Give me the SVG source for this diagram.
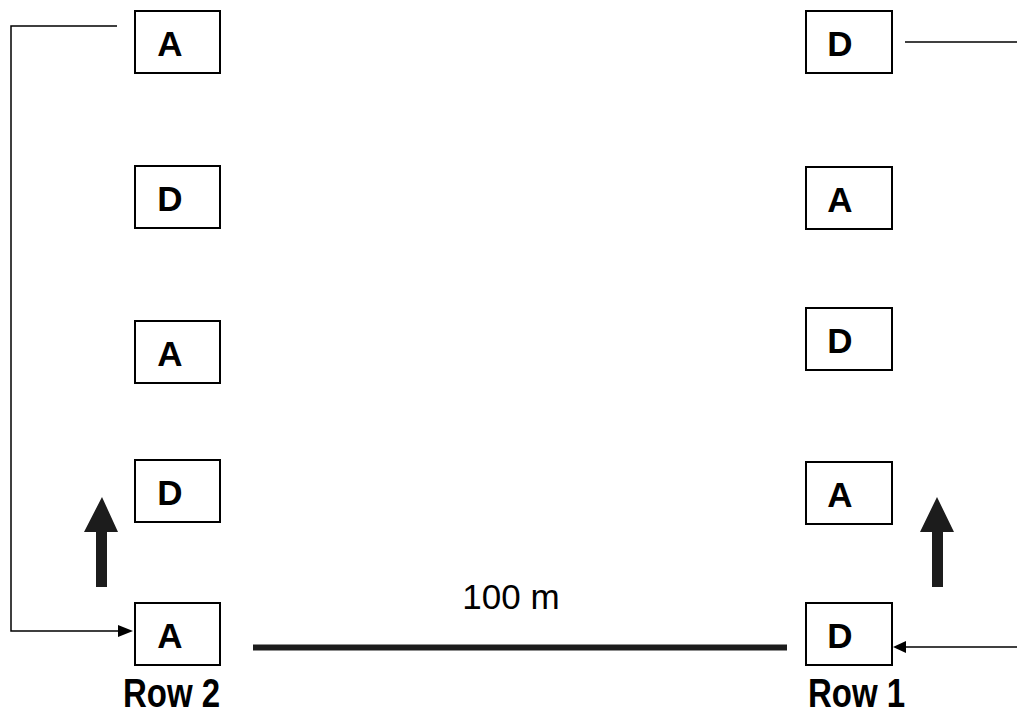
<svg xmlns="http://www.w3.org/2000/svg" width="1017" height="728" viewBox="0 0 1017 728">
<style>
.box{fill:#fff;stroke:#000;stroke-width:2}
.lbl{font-family:"Liberation Sans",Arial,sans-serif;font-weight:bold;font-size:35px;fill:#000;text-anchor:middle}
.row{font-family:"Liberation Sans",Arial,sans-serif;font-weight:bold;font-size:33px;fill:#000}
.conn{fill:none;stroke:#000;stroke-width:1.5}
.big{fill:#1c1c1c}
</style>
<rect width="1017" height="728" fill="#fff"/>
<g id="connectors">
<polyline class="conn" points="117,26 11,26 11,631 120,631"/>
<polygon points="133,631 118,625 118,637" fill="#000"/>
<line class="conn" x1="905" y1="42" x2="1017" y2="42"/>
<line class="conn" x1="905" y1="647" x2="1017" y2="647"/>
<polygon points="893,647 906,641 906,653" fill="#000"/>
<line x1="253" y1="647.5" x2="787" y2="647.5" stroke="#1c1c1c" stroke-width="6"/>
</g>
<g id="L1"><rect class="box" x="135" y="11" width="85" height="62"/><text class="lbl" x="170" y="56">A</text></g>
<g id="L2"><rect class="box" x="135" y="166" width="85" height="62"/><text class="lbl" x="170" y="211">D</text></g>
<g id="L3"><rect class="box" x="135" y="321" width="85" height="62"/><text class="lbl" x="170" y="366">A</text></g>
<g id="L4"><rect class="box" x="135" y="460" width="85" height="62"/><text class="lbl" x="170" y="505">D</text></g>
<g id="L5"><rect class="box" x="135" y="603" width="85" height="62"/><text class="lbl" x="170" y="648">A</text></g>
<g id="R1"><rect class="box" x="806" y="11" width="86" height="62"/><text class="lbl" x="840" y="56">D</text></g>
<g id="R2"><rect class="box" x="806" y="167" width="86" height="62"/><text class="lbl" x="840" y="212">A</text></g>
<g id="R3"><rect class="box" x="806" y="308" width="86" height="62"/><text class="lbl" x="840" y="353">D</text></g>
<g id="R4"><rect class="box" x="806" y="462" width="86" height="62"/><text class="lbl" x="840" y="507">A</text></g>
<g id="R5"><rect class="box" x="806" y="603" width="86" height="62"/><text class="lbl" x="840" y="648">D</text></g>
<g id="arrowL"><polygon class="big" points="102,497 118,532 107,532 107,587 96,587 96,532 84,532"/></g>
<g id="arrowR"><polygon class="big" points="937,497 954,532 943,532 943,587 932,587 932,532 920,532"/></g>
<text x="511" y="609" font-family="'Liberation Sans',Arial,sans-serif" font-size="35" text-anchor="middle" fill="#000">100 m</text>
<text class="row" transform="translate(123,707) scale(1,1.25)">Row 2</text>
<text class="row" transform="translate(808,707) scale(1,1.25)">Row 1</text>
</svg>
